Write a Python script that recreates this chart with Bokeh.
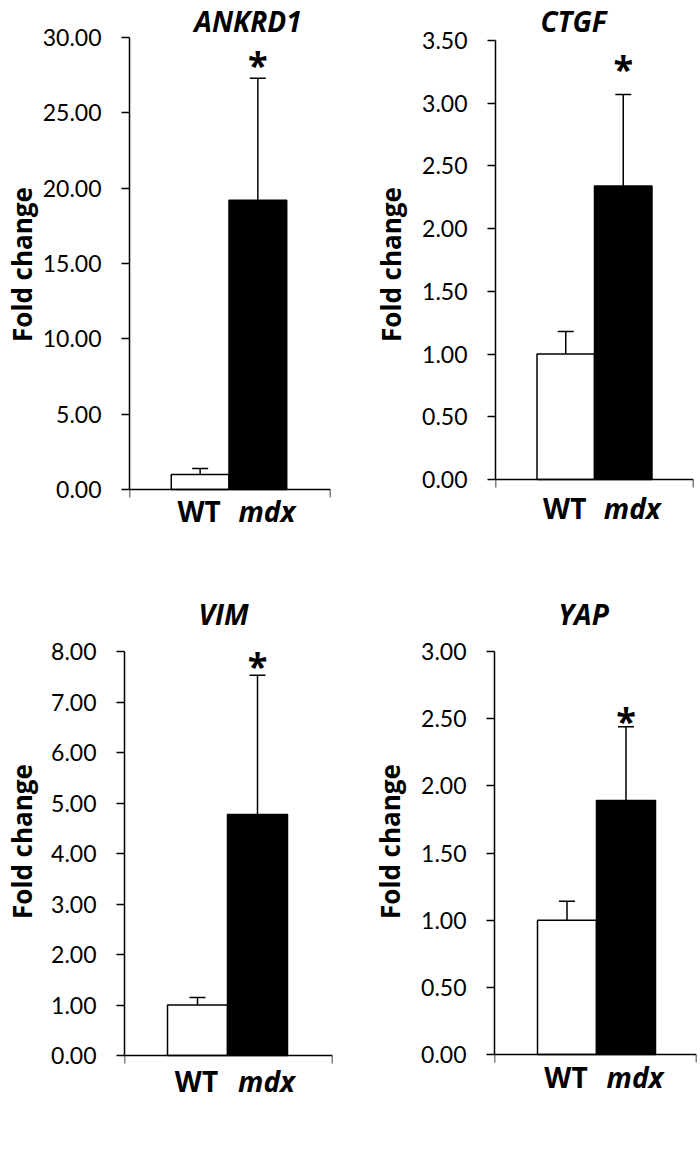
from bokeh.plotting import figure
from bokeh.models import (Range1d, FixedTicker, PrintfTickFormatter, CustomJSTickFormatter,
                          Whisker, TeeHead, Label, ColumnDataSource)
from bokeh.layouts import row, column
from bokeh.embed import file_html
from bokeh.resources import INLINE

# ---- data ----
groups = ["WT", "mdx"]
genes = ["ANKRD1", "CTGF", "VIM", "YAP"]
ankrd1_mean = [1.00, 19.20]
ankrd1_err = [0.40, 8.10]
ctgf_mean = [1.00, 2.34]
ctgf_err = [0.18, 0.73]
vim_mean = [1.00, 4.77]
vim_err = [0.15, 2.76]
yap_mean = [1.00, 1.89]
yap_err = [0.14, 0.55]
ankrd1_ticks = [0, 5, 10, 15, 20, 25, 30]
ctgf_ticks = [0, 0.5, 1.0, 1.5, 2.0, 2.5, 3.0, 3.5]
vim_ticks = [0, 1, 2, 3, 4, 5, 6, 7, 8]
yap_ticks = [0, 0.5, 1.0, 1.5, 2.0, 2.5, 3.0]
significant = [False, True]
y_label = "Fold change"

BOLD_FONT = "Open Sans"
TICK_FONT = "Lato"

# ---- layout / styling per panel (pixel geometry) ----
layout_cfg = [
    dict(w=340, h=568, bot=40, l=128, r=10, top_px=37, zero_px=489, x0=-0.224, x1=3.259,
         tdx=19, tdy=17, sdy=14, cdy=-21, lstand=0),
    dict(w=358, h=568, bot=40, l=155, r=5, top_px=40, zero_px=479, x0=-0.222, x1=3.222,
         tdx=-21, tdy=20, sdy=26, cdy=-28, lstand=10),
    dict(w=340, h=582, bot=36, l=124, r=8, top_px=83, zero_px=487, x0=-0.217, x1=3.25,
         tdx=-4, tdy=38, sdy=10, cdy=-25, lstand=8),
    dict(w=358, h=582, bot=36, l=154, r=2, top_px=83, zero_px=486, x0=-0.229, x1=3.195,
         tdx=-13, tdy=38, sdy=6, cdy=-22, lstand=10),
]
means = [ankrd1_mean, ctgf_mean, vim_mean, yap_mean]
errs = [ankrd1_err, ctgf_err, vim_err, yap_err]
ticks_all = [ankrd1_ticks, ctgf_ticks, vim_ticks, yap_ticks]
fills = ["white", "black"]


def make_panel(gene, mean, err, ticks, c):
    ymax = ticks[-1]
    frame_bottom = c["h"] - c["bot"]
    k = (c["zero_px"] - c["top_px"]) / ymax          # pixels per unit
    y_end = c["zero_px"] / k
    y_start = -(frame_bottom - c["zero_px"]) / k

    p = figure(width=c["w"], height=c["h"], x_range=Range1d(c["x0"], c["x1"]),
               y_range=Range1d(y_start, y_end), output_backend="svg", toolbar_location=None,
               min_border_left=c["l"], min_border_right=c["r"], min_border_top=0,
               min_border_bottom=c["bot"])
    p.outline_line_color = None
    p.xgrid.grid_line_color = None
    p.ygrid.grid_line_color = None
    p.background_fill_color = "white"

    xs = [i + 1 for i in range(len(groups))]
    src = ColumnDataSource(dict(x=xs, top=mean, lower=mean,
                                upper=[m + e for m, e in zip(mean, err)], fill=fills))
    p.vbar(x="x", top="top", bottom=0, width=1, fill_color="fill", line_color="black",
           line_width=1.5, source=src)
    wh = Whisker(source=src, base="x", upper="upper", lower="lower", dimension="height",
                 line_color="black", line_width=1.5, lower_head=None,
                 upper_head=TeeHead(size=16, line_color="black", line_width=1.5), level="overlay")
    p.add_layout(wh)

    ya = p.yaxis[0]
    ya.bounds = (0, ymax)
    ya.ticker = FixedTicker(ticks=ticks)
    ya.formatter = PrintfTickFormatter(format="%.2f")
    ya.major_tick_out = 8
    ya.major_tick_in = 0
    ya.minor_tick_line_color = None
    ya.axis_line_width = 1.5
    ya.major_tick_line_width = 1.5
    ya.axis_line_color = "black"
    ya.major_tick_line_color = "black"
    ya.major_label_text_font = TICK_FONT
    ya.major_label_text_font_size = "23px"
    ya.major_label_text_color = "black"
    ya.major_label_standoff = 20
    ya.axis_label = y_label
    ya.axis_label_text_font = BOLD_FONT
    ya.axis_label_text_font_style = "bold"
    ya.axis_label_text_font_size = "26px"
    ya.axis_label_text_color = "black"
    ya.axis_label_standoff = c["lstand"]

    xa = p.xaxis[0]
    xa.fixed_location = 0
    xa.ticker = FixedTicker(ticks=[c["x0"], c["x1"]])
    xa.formatter = CustomJSTickFormatter(code="return ''")
    xa.major_tick_out = 8
    xa.major_tick_in = 0
    xa.minor_tick_line_color = None
    xa.axis_line_width = 1.5
    xa.major_tick_line_width = 1.5
    xa.axis_line_color = "black"
    xa.major_tick_line_color = "black"

    # category labels under the x axis
    for i, g in enumerate(groups):
        p.add_layout(Label(x=xs[i], y=0, text=g, x_offset=(-1 if i == 0 else 9), y_offset=c["cdy"],
                           text_font=BOLD_FONT, text_font_size="28px",
                           text_font_style=("bold" if i == 0 else "bold italic"),
                           text_align="center", text_baseline="middle", text_color="black"))
    # significance stars
    for i, s in enumerate(significant):
        if s:
            p.add_layout(Label(x=xs[i], y=mean[i] + err[i], text="*", y_offset=c["sdy"],
                               text_font=BOLD_FONT, text_font_size="36px", text_font_style="bold",
                               text_align="center", text_baseline="middle", text_color="black"))
    # gene title above the plot
    p.add_layout(Label(x=1.5, y=ymax, text=gene, x_offset=c["tdx"], y_offset=c["tdy"],
                       text_font=BOLD_FONT, text_font_size="28px", text_font_style="bold italic",
                       text_align="center", text_baseline="middle", text_color="black"))
    return p


ps = [make_panel(genes[k], means[k], errs[k], ticks_all[k], layout_cfg[k]) for k in range(4)]
lay = column(row(ps[0], ps[1]), row(ps[2], ps[3]))
open("out.html", "w").write(file_html(lay, INLINE))
